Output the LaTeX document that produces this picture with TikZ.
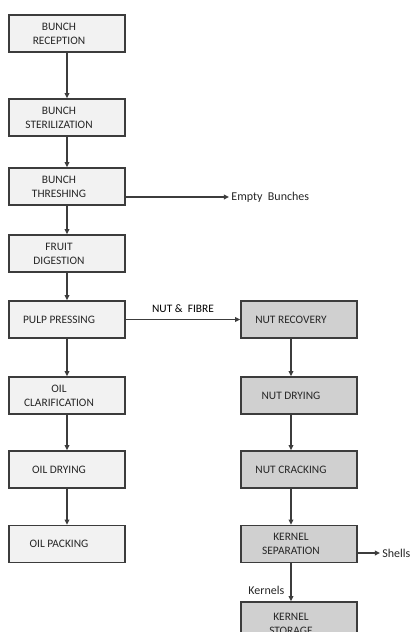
\documentclass[tikz,border=0pt]{standalone}
\usepackage{fontspec}
\setmainfont{Carlito}
\usetikzlibrary{arrows.meta}

\definecolor{edgegray}{HTML}{3C3C3C}
\definecolor{oilfill}{HTML}{F2F2F2}
\definecolor{nutfill}{HTML}{D0D0D0}

\tikzset{
  stage/.style={draw=edgegray,line width=.8pt,minimum width=58pt,minimum height=18.5pt,inner sep=0pt},
  oilstage/.style={stage,fill=oilfill},
  nutstage/.style={stage,fill=nutfill},
  stagetext/.style={label={[xshift=-4pt,align=center,inner sep=0pt,text=black!85]center:#1}},
  flow/.style={draw=edgegray,line width=.7pt,-{Triangle[length=2.6pt,width=2.4pt]}},
  sidetext/.style={inner sep=1pt,text=black!85,font=\fontsize{6}{7}\selectfont}
}

\begin{document}
\begin{tikzpicture}[x=.5pt,y=-.5pt,font=\fontsize{5.7}{7}\selectfont]
\useasboundingbox (0,0) rectangle (409,632);
% oil line
\node[oilstage,stagetext={BUNCH\\RECEPTION}] (rec) at (67,33.5) {};
\node[oilstage,stagetext={BUNCH\\STERILIZATION}] (ster) at (67,117.5) {};
\node[oilstage,stagetext={BUNCH\\THRESHING}] (thr) at (67,186.5) {};
\node[oilstage,stagetext={FRUIT\\DIGESTION}] (dig) at (67,253.5) {};
\node[oilstage,stagetext={PULP PRESSING}] (press) at (67,319.5) {};
\node[oilstage,stagetext={OIL\\CLARIFICATION}] (clar) at (67,395.5) {};
\node[oilstage,stagetext={OIL DRYING}] (odry) at (67,469.5) {};
\node[oilstage,stagetext={OIL PACKING}] (pack) at (67,544) {};
% nut line
\node[nutstage,stagetext={NUT RECOVERY}] (nrec) at (299,319.5) {};
\node[nutstage,stagetext={NUT DRYING}] (ndry) at (299,395.5) {};
\node[nutstage,stagetext={NUT CRACKING}] (ncrk) at (299,469.5) {};
\node[nutstage,stagetext={KERNEL\\SEPARATION}] (ksep) at (299,544) {};
\node[nutstage,minimum height=22pt,stagetext={KERNEL\\STORAGE}] (kst) at (299,624) {};
\coordinate (nutline) at (291,0);
% by-products
\node[sidetext,anchor=west] (empty) at (229,197) {Empty\ \ Bunches};
\node[sidetext,anchor=west] (shells) at (380,553) {Shells};
% connectors
\draw[flow] (rec) -- (ster);
\draw[flow] (ster) -- (thr);
\draw[flow] (thr) -- (dig);
\draw[flow] (dig) -- (press);
\draw[flow] (press) -- (clar);
\draw[flow] (clar) -- (odry);
\draw[flow] (odry) -- (pack);
\draw[flow] (thr.east |- empty) -- (empty.west);
\draw[flow] (press) -- node[above=2pt,inner sep=1pt] {NUT \&\ \ FIBRE} (nrec);
\draw[flow] (nrec.south -| nutline) -- (ndry.north -| nutline);
\draw[flow] (ndry.south -| nutline) -- (ncrk.north -| nutline);
\draw[flow] (ncrk.south -| nutline) -- (ksep.north -| nutline);
\draw[flow] (ksep.east |- shells) -- (shells.west);
\draw[flow] (ksep.south -| nutline) -- node[pos=.72,left=2pt,sidetext] {Kernels} (kst.north -| nutline);
\end{tikzpicture}
\end{document}
